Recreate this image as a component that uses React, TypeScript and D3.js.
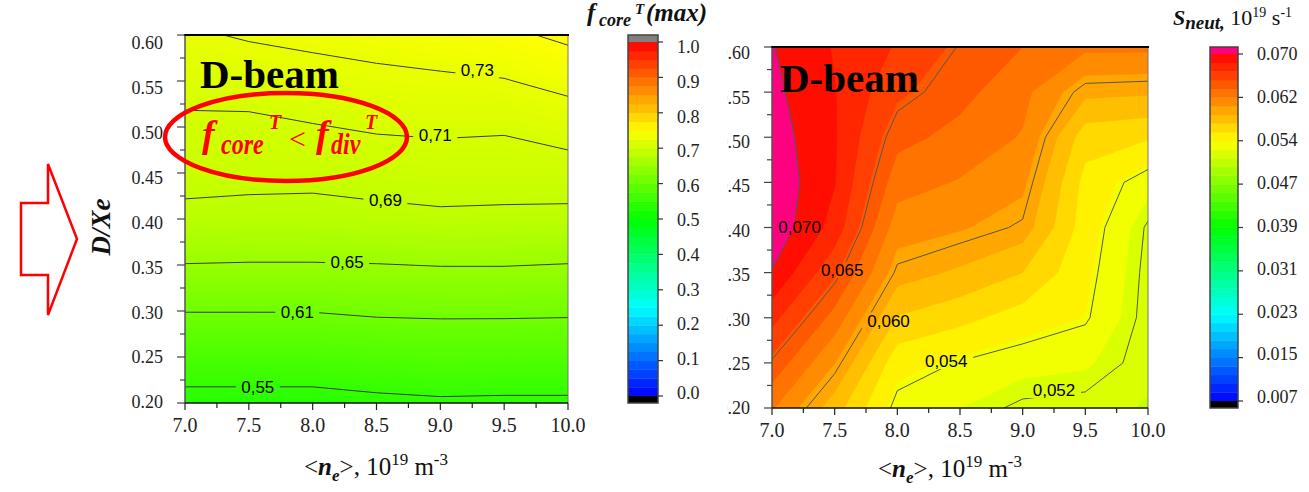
import * as d3 from "d3";

// grid of the two contour maps
const neGrid = [7.0, 7.5, 8.0, 8.5, 9.0, 9.5, 10.0];
const dxeGrid = [0.2, 0.25, 0.3, 0.35, 0.4, 0.45, 0.5, 0.55, 0.6];

// f_core^T(max), one row per D/Xe value (0.20 -> 0.60), columns follow neGrid
const fCoreRows = [
  [0.537, 0.537, 0.537, 0.542, 0.545, 0.544, 0.544],
  [0.574, 0.574, 0.574, 0.578, 0.581, 0.58, 0.58],
  [0.611, 0.611, 0.611, 0.615, 0.616, 0.616, 0.615],
  [0.649, 0.648, 0.648, 0.649, 0.651, 0.651, 0.649],
  [0.683, 0.681, 0.681, 0.684, 0.686, 0.685, 0.684],
  [0.699, 0.698, 0.697, 0.699, 0.701, 0.701, 0.702],
  [0.706, 0.706, 0.709, 0.712, 0.713, 0.712, 0.718],
  [0.717, 0.718, 0.722, 0.725, 0.727, 0.729, 0.736],
  [0.727, 0.732, 0.735, 0.738, 0.741, 0.746, 0.754],
];

// S_neut, 10^19 s^-1, same layout
const sNeutRows = [
  [0.0623, 0.0581, 0.0535, 0.0527, 0.0517, 0.0515, 0.051],
  [0.0648, 0.0606, 0.0548, 0.0539, 0.0532, 0.0529, 0.0514],
  [0.0674, 0.0631, 0.0573, 0.0563, 0.0551, 0.0542, 0.0515],
  [0.0699, 0.0656, 0.0597, 0.0587, 0.0574, 0.0546, 0.0516],
  [0.0712, 0.0678, 0.0613, 0.0607, 0.0598, 0.055, 0.0518],
  [0.0712, 0.0685, 0.0628, 0.062, 0.0609, 0.0553, 0.0532],
  [0.0708, 0.0686, 0.0642, 0.0632, 0.062, 0.0565, 0.056],
  [0.0704, 0.0685, 0.0656, 0.0642, 0.0626, 0.0594, 0.0592],
  [0.0701, 0.0683, 0.0667, 0.0649, 0.0637, 0.0625, 0.0625],
];

const fCoreLines = [0.55, 0.61, 0.65, 0.69, 0.71, 0.73, 0.75];
const sNeutLines = [0.052, 0.054, 0.06, 0.065, 0.07];

// contour labels, anchored in data units
const fCoreLabels = [
  { text: "0,73", ne: 9.29, dxe: 0.562 },
  { text: "0,71", ne: 8.96, dxe: 0.491 },
  { text: "0,69", ne: 8.57, dxe: 0.421 },
  { text: "0,65", ne: 8.27, dxe: 0.353 },
  { text: "0,61", ne: 7.88, dxe: 0.299 },
  { text: "0,55", ne: 7.57, dxe: 0.218 },
];
const sNeutLabels = [
  { text: "0,070", ne: 7.22, dxe: 0.401 },
  { text: "0,065", ne: 7.56, dxe: 0.353 },
  { text: "0,060", ne: 7.93, dxe: 0.297 },
  { text: "0,054", ne: 8.39, dxe: 0.252 },
  { text: "0,052", ne: 9.25, dxe: 0.22 },
];

const xTickLabels = ["7.0", "7.5", "8.0", "8.5", "9.0", "9.5", "10.0"];
const yTickLabels = ["0.20", "0.25", "0.30", "0.35", "0.40", "0.45", "0.50", "0.55", "0.60"];
const fCoreBarLabels = ["0.0", "0.1", "0.2", "0.3", "0.4", "0.5", "0.6", "0.7", "0.8", "0.9", "1.0"];
const sNeutBarLabels = ["0.007", "0.015", "0.023", "0.031", "0.039", "0.047", "0.054", "0.062", "0.070"];
const sNeutMin = 0.007;
const sNeutMax = 0.07;

const SERIF = "'Liberation Serif', 'Times New Roman', serif";
const SANS = "'Liberation Sans', Arial, sans-serif";

const rainbow = d3
  .scaleLinear<string>()
  .domain([0, 0.25, 0.5, 0.75, 1])
  .range(["#0000ff", "#00ffff", "#00ff00", "#ffff00", "#ff0000"])
  .clamp(true);

function contourMaker(rows: number[][], xS: any, yS: any) {
  const n = neGrid.length;
  const m = dxeGrid.length;
  const values = rows.flat();
  const ix = d3.scaleLinear().domain([0, n - 1]).range([neGrid[0], neGrid[n - 1]]);
  const iy = d3.scaleLinear().domain([0, m - 1]).range([dxeGrid[0], dxeGrid[m - 1]]);
  const proj = d3.geoTransform({
    point(x: number, y: number) {
      // sample i sits at grid coordinate i + 0.5
      (this as any).stream.point(xS(ix(x - 0.5)), yS(iy(y - 0.5)));
    },
  });
  const path = d3.geoPath(proj);
  const gen = d3.contours().size([n, m]);
  return {
    bands: (th: number[]) => gen.thresholds(th)(values),
    line: (lvl: number) => path(gen.contour(values, lvl) as any) || "",
    path,
  };
}

function Axes({ box, xS, yS, yLab, id, clipLeft }: any) {
  const majorX = d3.range(7).map((i) => 7 + i * 0.5);
  const minorX = d3.range(6).map((i) => 7.25 + i * 0.5);
  const majorY = d3.range(9).map((i) => 0.2 + i * 0.05);
  const minorY = d3.range(8).map((i) => 0.225 + i * 0.05);
  return (
    <g>
      <line x1={box.x0} x2={box.x0} y1={box.y0} y2={box.y1} stroke="#555" strokeWidth={1.5} />
      <line x1={box.x1} x2={box.x1} y1={box.y0} y2={box.y1} stroke="#777" strokeWidth={1} />
      <line x1={box.x0 - 1} x2={box.x1 + 1} y1={box.y0} y2={box.y0} stroke="#000" strokeWidth={2} />
      <line x1={box.x0} x2={box.x1} y1={box.y1} y2={box.y1} stroke="#111" strokeWidth={1.5} />
      {majorY.map((v) => (
        <line key={"my" + v} x1={box.x0 - 8} x2={box.x0} y1={yS(v)} y2={yS(v)} stroke="#444" strokeWidth={1.2} />
      ))}
      {minorY.map((v) => (
        <line key={"ny" + v} x1={box.x0 - 5} x2={box.x0} y1={yS(v)} y2={yS(v)} stroke="#444" strokeWidth={1.2} />
      ))}
      {majorX.map((v) => (
        <line key={"mx" + v} x1={xS(v)} x2={xS(v)} y1={box.y1} y2={box.y1 + 7} stroke="#222" strokeWidth={1.2} />
      ))}
      {minorX.map((v) => (
        <line key={"nx" + v} x1={xS(v)} x2={xS(v)} y1={box.y1} y2={box.y1 + 5} stroke="#222" strokeWidth={1.2} />
      ))}
      {xTickLabels.map((t, i) => (
        <text key={"xl" + t} x={xS(majorX[i])} y={box.y1 + 29} textAnchor="middle" fontFamily={SERIF} fontSize={20} fill="#222">
          {t}
        </text>
      ))}
      <g clipPath={clipLeft ? `url(#${id}-ylab)` : undefined}>
        {yTickLabels.map((t, i) => (
          <text key={"yl" + t} x={box.x0 - 22} y={yLab(majorY[i])} dy="0.35em" textAnchor="end" fontFamily={SERIF} fontSize={18} fill="#222">
            {t}
          </text>
        ))}
      </g>
    </g>
  );
}

function NeTitle({ cx, y }: any) {
  return (
    <text x={cx} y={y} textAnchor="middle" fontFamily={SERIF} fontSize={25} fill="#111">
      <tspan>&lt;</tspan>
      <tspan fontWeight="bold" fontStyle="italic">n</tspan>
      <tspan fontWeight="bold" fontStyle="italic" fontSize={17} dy={6}>e</tspan>
      <tspan dy={-6}>&gt;, 10</tspan>
      <tspan fontSize={17} dy={-10}>19</tspan>
      <tspan dy={10}> m</tspan>
      <tspan fontSize={17} dy={-10}>-3</tspan>
    </text>
  );
}

export default function App() {
  const L = { x0: 185, x1: 568, y0: 35, y1: 403 };
  const R = { x0: 772, x1: 1148, y0: 47, y1: 408 };

  const xL = d3.scaleLinear().domain([7, 10]).range([L.x0, L.x1]);
  const yL = d3.scaleLinear().domain([0.2, 0.6]).range([L.y1, L.y0]);
  const yLlab = d3.scaleLinear().domain([0.2, 0.6]).range([402, 43]);
  const xR = d3.scaleLinear().domain([7, 10]).range([R.x0, R.x1]);
  const yR = d3.scaleLinear().domain([0.2, 0.6]).range([R.y1, R.y0]);
  const yRlab = d3.scaleLinear().domain([0.2, 0.6]).range([408, 53]);

  // left map: fine bands give the smooth gradient
  const leftC = contourMaker(fCoreRows, xL, yL);
  const leftTh = d3.range(97).map((i) => 0.52 + i * 0.0025);
  const leftBands = leftC.bands(leftTh);

  // right map: the 40 discrete bands of the colour bar, pink above max
  const step = (sNeutMax - sNeutMin) / 40;
  const rightC = contourMaker(sNeutRows, xR, yR);
  const rightTh = d3.range(27, 41).map((k) => sNeutMin + k * step);
  const rightBands = rightC.bands(rightTh);
  const sColor = (v: number) =>
    v >= sNeutMax - 1e-9 ? "#ff0080" : rainbow((v + step / 2 - sNeutMin) / (sNeutMax - sNeutMin));

  // colour bars
  const cbL = { x0: 628, x1: 658 };
  const cbLy = d3.scaleLinear().domain([0, 1]).range([396, 42]);
  const cbLlab = d3.scaleLinear().domain([0, 1]).range([393, 47]);
  const cbR = { x0: 1210, x1: 1238 };
  const cbRy = d3.scaleLinear().domain([sNeutMin, sNeutMax]).range([401, 54]);
  const cbRlab = d3.scaleLinear().domain([sNeutMin, sNeutMax]).range([397, 54]);

  const labelBox = (t: string, x: number, y: number) => ({
    x: x - t.length * 5 - 2,
    y: y - 8,
    w: t.length * 10 + 4,
    h: 16,
  });

  return (
    <svg width={1309} height={492} style={{ position: "absolute", left: 0, top: 0, background: "#fff" }}>
      <defs>
        <clipPath id="clipL">
          <rect x={L.x0} y={L.y0} width={L.x1 - L.x0} height={L.y1 - L.y0} />
        </clipPath>
        <clipPath id="clipR">
          <rect x={R.x0} y={R.y0} width={R.x1 - R.x0} height={R.y1 - R.y0} />
        </clipPath>
        <clipPath id="R-ylab">
          <rect x={727} y={0} width={50} height={492} />
        </clipPath>
        <mask id="maskL">
          <rect x={0} y={0} width={1309} height={492} fill="#fff" />
          {fCoreLabels.map((d) => {
            const b = labelBox(d.text, xL(d.ne), yL(d.dxe));
            return <rect key={d.text} x={b.x} y={b.y} width={b.w} height={b.h} fill="#000" />;
          })}
        </mask>
        <mask id="maskR">
          <rect x={0} y={0} width={1309} height={492} fill="#fff" />
          {sNeutLabels.map((d) => {
            const b = labelBox(d.text, xR(d.ne), yR(d.dxe));
            return <rect key={d.text} x={b.x} y={b.y} width={b.w} height={b.h} fill="#000" />;
          })}
        </mask>
      </defs>

      {/* left map */}
      <g clipPath="url(#clipL)">
        {leftBands.map((b: any) => (
          <path key={b.value} d={leftC.path(b) || ""} fill={rainbow(b.value + 0.00125)} stroke={rainbow(b.value + 0.00125)} strokeWidth={0.3} />
        ))}
        <g mask="url(#maskL)">
          {fCoreLines.map((v) => (
            <path key={v} d={leftC.line(v)} fill="none" stroke="#3a3a3a" strokeWidth={1} />
          ))}
        </g>
      </g>
      {fCoreLabels.map((d) => (
        <text key={d.text} x={xL(d.ne)} y={yL(d.dxe)} dy="0.36em" textAnchor="middle" fontFamily={SANS} fontSize={17} fill="#000">
          {d.text}
        </text>
      ))}
      <Axes box={L} xS={xL} yS={yL} yLab={yLlab} id="L" clipLeft={false} />
      <NeTitle cx={376} y={475} />
      <text transform="translate(110,227) rotate(-90)" textAnchor="middle" fontFamily={SERIF} fontSize={27} fontWeight="bold" fontStyle="italic" fill="#111">
        D/Xe
      </text>
      <text x={200} y={88} fontFamily={SERIF} fontSize={41} fontWeight="bold" fill="#000">
        D-beam
      </text>

      {/* red annotation */}
      <ellipse cx={286} cy={137} rx={121} ry={44} fill="none" stroke="#ff0000" strokeWidth={4.5} />
      <g fontFamily={SERIF} fontWeight="bold" fontStyle="italic" fill="#ff0000">
        <text x={202} y={147} fontSize={38}>f</text>
        <text transform="translate(221,154) scale(0.8,1)" fontSize={30}>core</text>
        <text x={269} y={129} fontSize={20}>T</text>
        <text x={289} y={149} fontSize={30} fontWeight="normal" fontStyle="normal">&lt;</text>
        <text x={316} y={147} fontSize={38}>f</text>
        <text transform="translate(331,154) scale(0.8,1)" fontSize={30}>div</text>
        <text x={365} y={129} fontSize={20}>T</text>
      </g>
      <polygon points="21,203 48,203 48,164 77,239 48,315 48,275 21,275" fill="none" stroke="#ff0000" strokeWidth={2.5} />

      {/* left colour bar */}
      <rect x={cbL.x0} y={35} width={cbL.x1 - cbL.x0} height={7} fill="#808080" />
      {d3.range(40).map((i) => (
        <rect key={i} x={cbL.x0} y={cbLy((i + 1) / 40)} width={cbL.x1 - cbL.x0} height={cbLy(i / 40) - cbLy((i + 1) / 40) + 0.4} fill={rainbow((i + 0.5) / 40)} />
      ))}
      <rect x={cbL.x0} y={396} width={cbL.x1 - cbL.x0} height={7} fill="#000" />
      <rect x={cbL.x0} y={35} width={cbL.x1 - cbL.x0} height={368} fill="none" stroke="#444" strokeWidth={1.5} />
      {fCoreBarLabels.map((t, i) => (
        <g key={t}>
          <line x1={cbL.x1} x2={cbL.x1 + 5} y1={cbLy(i / 10)} y2={cbLy(i / 10)} stroke="#333" strokeWidth={1.2} />
          <text x={677} y={cbLlab(i / 10)} dy="0.35em" fontFamily={SERIF} fontSize={18} fill="#222">
            {t}
          </text>
        </g>
      ))}
      <g fontFamily={SERIF} fontWeight="bold" fontStyle="italic" fill="#111">
        <text x={587} y={21} fontSize={25}>f</text>
        <text x={599} y={26} fontSize={18}>core</text>
        <text x={635} y={14} fontSize={15}>T</text>
        <text x={646} y={21} fontSize={25}>(max)</text>
      </g>

      {/* right map */}
      <g clipPath="url(#clipR)">
        {rightBands.map((b: any) => (
          <path key={b.value} d={rightC.path(b) || ""} fill={sColor(b.value)} stroke={sColor(b.value)} strokeWidth={0.3} />
        ))}
        <g mask="url(#maskR)">
          {sNeutLines.map((v) => (
            <path key={v} d={rightC.line(v)} fill="none" stroke="#555" strokeWidth={1} />
          ))}
        </g>
      </g>
      {sNeutLabels.map((d) => (
        <text key={d.text} x={xR(d.ne)} y={yR(d.dxe)} dy="0.36em" textAnchor="middle" fontFamily={SANS} fontSize={17} fill="#000">
          {d.text}
        </text>
      ))}
      <Axes box={R} xS={xR} yS={yR} yLab={yRlab} id="R" clipLeft={true} />
      <NeTitle cx={950} y={477} />
      <text x={780} y={92} fontFamily={SERIF} fontSize={41} fontWeight="bold" fill="#000">
        D-beam
      </text>

      {/* right colour bar */}
      <rect x={cbR.x0} y={47} width={cbR.x1 - cbR.x0} height={7} fill="#ff0080" />
      {d3.range(40).map((i) => (
        <rect key={i} x={cbR.x0} y={cbRy(sNeutMin + (i + 1) * step)} width={cbR.x1 - cbR.x0} height={cbRy(sNeutMin + i * step) - cbRy(sNeutMin + (i + 1) * step) + 0.4} fill={rainbow((i + 0.5) / 40)} />
      ))}
      <rect x={cbR.x0} y={401} width={cbR.x1 - cbR.x0} height={7} fill="#000" />
      <rect x={cbR.x0} y={47} width={cbR.x1 - cbR.x0} height={361} fill="none" stroke="#444" strokeWidth={1.5} />
      {sNeutBarLabels.map((t, i) => {
        const v = sNeutMin + (i * (sNeutMax - sNeutMin)) / 8;
        return (
          <g key={t}>
            <line x1={cbR.x1} x2={cbR.x1 + 5} y1={cbRy(v)} y2={cbRy(v)} stroke="#333" strokeWidth={1.2} />
            <text x={1257} y={cbRlab(v)} dy="0.35em" fontFamily={SERIF} fontSize={18} fill="#222">
              {t}
            </text>
          </g>
        );
      })}
      <text x={1173} y={25} fontFamily={SERIF} fontSize={22} fill="#111">
        <tspan fontWeight="bold" fontStyle="italic">S</tspan>
        <tspan fontWeight="bold" fontStyle="italic" fontSize={19} dy={4}>neut,</tspan>
        <tspan dy={-4}> 10</tspan>
        <tspan fontSize={14} dy={-8}>19</tspan>
        <tspan dy={8}> s</tspan>
        <tspan fontSize={14} dy={-8}>-1</tspan>
      </text>
    </svg>
  );
}
